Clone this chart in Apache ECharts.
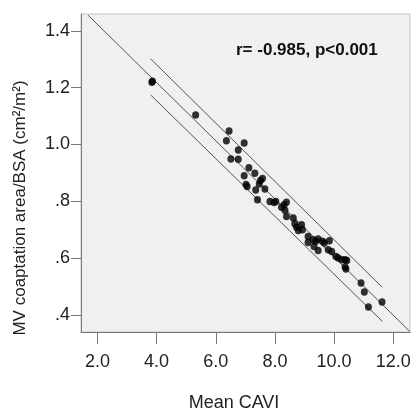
<!DOCTYPE html>
<html>
<head>
<meta charset="utf-8">
<script src="https://cdn.jsdelivr.net/npm/echarts@6/dist/echarts.min.js"></script>
<style>
html,body{margin:0;padding:0;background:#fff;}
#chart{width:412px;height:410px;}
</style>
</head>
<body>
<div id="chart"></div>
<script>
// Scatter data: Mean CAVI (x) vs MV coaptation area/BSA (y)
var caviValues = [3.84,3.86,5.32,6.45,6.36,6.96,6.76,6.51,6.76,7.12,7.32,6.96,7.58,7.51,7.47,7.02,7.06,7.35,7.66,7.41,7.83,7.97,8.03,8.39,8.31,8.22,8.34,8.39,8.62,8.67,8.73,8.79,8.90,8.93,9.12,9.12,9.29,9.38,9.46,9.61,9.67,9.32,9.46,9.84,9.80,9.92,10.06,10.14,10.26,10.37,10.43,10.37,10.40,10.91,11.02,11.16,11.62];
var coaptValues = [1.219,1.222,1.104,1.047,1.013,1.005,0.980,0.949,0.948,0.918,0.899,0.890,0.880,0.873,0.861,0.859,0.852,0.840,0.843,0.805,0.799,0.796,0.799,0.797,0.788,0.779,0.768,0.746,0.741,0.721,0.709,0.697,0.717,0.700,0.676,0.655,0.665,0.659,0.667,0.659,0.653,0.641,0.627,0.661,0.629,0.623,0.606,0.600,0.594,0.594,0.592,0.569,0.562,0.512,0.481,0.428,0.446];
// Regression line and prediction interval lines (endpoints)
var fitLineX = [1.682, 12.565];
var fitLineY = [1.455, 0.341];
var upperX = [3.80, 11.63];
var upperY = [1.301, 0.497];
var lowerX = [3.80, 11.63];
var lowerY = [1.174, 0.3775];
// Axes
var xTicks = [2, 4, 6, 8, 10, 12];
var xTickLabels = ['2.0', '4.0', '6.0', '8.0', '10.0', '12.0'];
var yTicks = [0.4, 0.6, 0.8, 1.0, 1.2, 1.4];
var yTickLabels = ['.4', '.6', '.8', '1.0', '1.2', '1.4'];
var xRange = [1.445, 12.565];
var yRange = [0.34, 1.459];
var xTitle = 'Mean CAVI';
var yTitle = 'MV coaptation area/BSA (cm\u00B2/m\u00B2)';
var annotation = 'r= -0.985, p<0.001';

function zip(a, b) { return a.map(function (v, i) { return [v, b[i]]; }); }
function lookup(ticks, labels) {
  return function (v) {
    for (var i = 0; i < ticks.length; i++) if (Math.abs(ticks[i] - v) < 1e-6) return labels[i];
    return '';
  };
}

var FONT = 'Liberation Sans, Arial, sans-serif';
var chart = echarts.init(document.getElementById('chart'), null, {renderer: 'canvas'});
var lineStyle = {color: '#555', width: 1};
chart.setOption({
  animation: false,
  backgroundColor: '#fff',
  grid: {left: 81, right: 2, top: 14, bottom: 78, containLabel: false, outerBoundsMode: 'none', show: true, backgroundColor: '#f0f0f0', borderColor: '#c4c4c4', borderWidth: 1},
  xAxis: {
    type: 'value', min: xRange[0], max: xRange[1],
    splitLine: {show: false},
    axisLine: {show: true, onZero: false, lineStyle: {color: '#777', width: 1}},
    axisTick: {show: true, length: 12, customValues: xTicks, lineStyle: {color: '#777'}},
    axisLabel: {customValues: xTicks, formatter: lookup(xTicks, xTickLabels), margin: 21, color: '#222', fontSize: 18, fontFamily: FONT},
    name: xTitle, nameLocation: 'middle', nameGap: 62,
    nameTextStyle: {color: '#222', fontSize: 18, fontFamily: FONT, padding: [0, 23, 0, 0]}
  },
  yAxis: {
    type: 'value', min: yRange[0], max: yRange[1],
    splitLine: {show: false},
    axisLine: {show: true, onZero: false, lineStyle: {color: '#777', width: 1}},
    axisTick: {show: true, length: 10, customValues: yTicks, lineStyle: {color: '#777'}},
    axisLabel: {customValues: yTicks, formatter: lookup(yTicks, yTickLabels), margin: 11, color: '#222', fontSize: 18, fontFamily: FONT},
    name: yTitle, nameLocation: 'middle', nameGap: 52, nameRotate: 90,
    nameTextStyle: {color: '#222', fontSize: 17, fontFamily: FONT, padding: [0, 70, 0, 0]}
  },
  graphic: [{
    type: 'text', left: 236, top: 42,
    style: {text: annotation, fill: '#111', font: 'bold 17px ' + FONT}
  }],
  series: [
    {type: 'line', data: zip(fitLineX, fitLineY), symbol: 'none', lineStyle: lineStyle, clip: true, z: 2},
    {type: 'line', data: zip(upperX, upperY), symbol: 'none', lineStyle: lineStyle, clip: true, z: 2},
    {type: 'line', data: zip(lowerX, lowerY), symbol: 'none', lineStyle: lineStyle, clip: true, z: 2},
    {type: 'scatter', data: zip(caviValues, coaptValues), symbol: 'circle', symbolSize: [7, 7.5], itemStyle: {color: '#000'}, z: 3}
  ]
});
</script>
</body>
</html>
